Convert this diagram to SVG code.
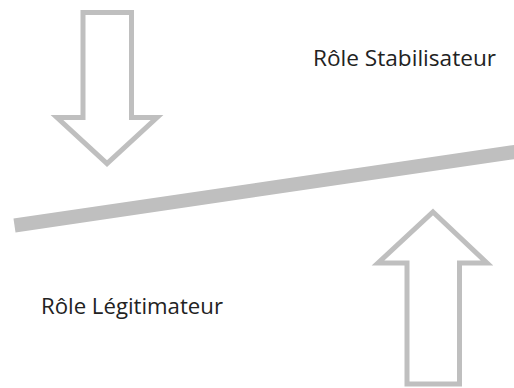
<svg xmlns="http://www.w3.org/2000/svg" width="514" height="388" viewBox="0 0 514 388">
  <style>
    .arrow { fill: #FFFFFF; stroke: #BFBFBF; stroke-width: 5; stroke-linejoin: miter; }
    .bar { stroke: #BFBFBF; stroke-width: 14; stroke-linecap: butt; fill: none; }
    .label { font-family: "Open Sans", "Noto Sans", "DejaVu Sans", sans-serif; font-size: 21.5px; fill: #222222; }
  </style>
  <rect width="514" height="388" fill="#FFFFFF"/>
  <g id="connectors">
    <line class="bar" x1="14.5" y1="225.5" x2="530" y2="149.7"/>
  </g>
  <g id="arrow-down">
    <polygon class="arrow" points="83,12.5 131.5,12.5 131.5,117.5 157,117.5 107,163.5 57,117.5 83,117.5"/>
  </g>
  <g id="arrow-up">
    <polygon class="arrow" points="433,212 487,263 459.5,263 459.5,384 407,384 407,263 378,263"/>
  </g>
  <g id="label-stabilisateur">
    <text class="label" x="313" y="65.5" textLength="183" lengthAdjust="spacingAndGlyphs">Rôle Stabilisateur</text>
  </g>
  <g id="label-legitimateur">
    <text class="label" x="41" y="314" textLength="182" lengthAdjust="spacingAndGlyphs">Rôle Légitimateur</text>
  </g>
</svg>
